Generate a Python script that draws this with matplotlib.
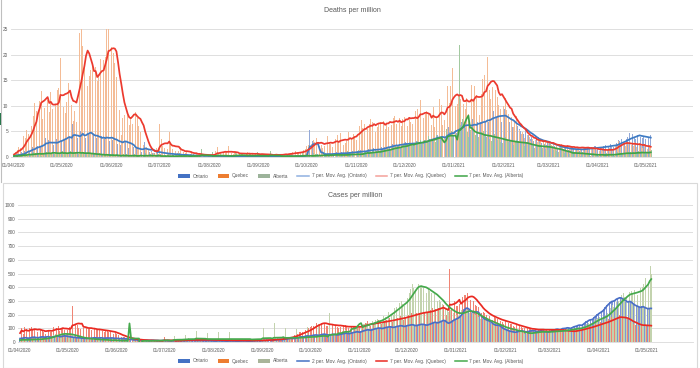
import matplotlib.pyplot as plt
import matplotlib.dates as mdates
from matplotlib.patches import Patch, Rectangle
from matplotlib.lines import Line2D
import pandas as pd

plt.rcParams['font.family'] = ['Liberation Sans', 'DejaVu Sans']

START = "2020-04-01"

# Deaths per million, daily values (each row = 2 weeks, Wed..Tue)
ontario_deaths = [
    0.2, 0.3, 0.5, 0.6, 0.4, 0.9, 1.0,   1.2, 1.5, 1.9, 1.1, 1.4, 2.0, 1.6,
    2.8, 2.2, 2.6, 1.9, 2.3, 3.1, 3.7,   2.9, 3.3, 2.5, 1.8, 2.4, 3.0, 3.6,
    3.8, 4.4, 3.1, 2.9, 3.5, 3.9, 5.2,   4.1, 3.6, 6.5, 3.4, 2.8, 3.7, 4.2,
    5.0, 6.2, 4.1, 3.8, 4.3, 4.7, 5.3,   3.6, 4.5, 3.0, 3.8, 3.2, 3.9, 4.1,
    4.2, 3.5, 4.0, 3.3, 3.1, 4.3, 3.4,   2.8, 3.1, 2.6, 2.2, 2.4, 3.4, 4.7,
    2.9, 2.1, 1.8, 1.5, 1.3, 1.9, 2.0,   1.7, 1.4, 1.2, 1.0, 1.6, 2.9, 1.3,
    1.1, 0.9, 1.2, 0.8, 0.7, 1.3, 1.0,   0.8, 0.6, 0.7, 0.5, 0.4, 0.9, 0.7,
    0.6, 0.5, 0.4, 0.3, 0.4, 0.6, 0.5,   0.4, 0.3, 0.5, 0.2, 0.2, 0.4, 0.3,
    0.3, 0.2, 0.4, 0.2, 0.1, 0.3, 0.2,   0.2, 0.3, 0.2, 0.1, 0.1, 0.2, 0.3,
    0.2, 0.1, 0.3, 0.1, 0.1, 0.2, 0.2,   0.1, 0.2, 0.1, 0.0, 0.1, 0.2, 0.1,
    0.1, 0.1, 0.2, 0.1, 0.0, 0.1, 0.1,   0.2, 0.1, 0.1, 0.0, 0.1, 0.1, 0.2,
    0.1, 0.1, 0.0, 0.1, 0.0, 0.1, 0.1,   0.1, 0.0, 0.1, 0.1, 0.0, 0.1, 0.1,
    0.1, 0.1, 0.2, 0.1, 0.1, 0.2, 0.1,   0.2, 0.1, 0.3, 0.1, 0.2, 0.2, 0.3,
    0.3, 0.4, 7.9, 5.2, 0.3, 3.1, 0.5,   0.6, 0.5, 0.7, 0.4, 0.3, 0.6, 0.8,
    0.7, 0.6, 0.5, 0.6, 0.4, 0.8, 0.9,   0.8, 0.7, 0.9, 0.6, 0.5, 0.8, 1.1,
    1.0, 0.9, 1.2, 0.8, 0.7, 1.1, 1.2,   1.4, 1.1, 1.3, 1.0, 1.2, 1.5, 1.6,
    1.5, 1.7, 1.3, 1.2, 1.4, 1.6, 1.9,   2.2, 1.9, 2.4, 1.8, 1.7, 2.3, 2.5,
    2.8, 2.4, 2.2, 2.6, 2.0, 2.5, 3.1,   2.9, 2.6, 2.3, 2.8, 2.2, 2.6, 3.0,
    3.2, 2.7, 3.1, 2.6, 2.5, 3.3, 3.5,   4.1, 3.6, 3.8, 3.4, 3.2, 4.0, 4.3,
    4.5, 3.9, 4.2, 2.6, 3.8, 5.9, 5.8,   5.6, 4.8, 4.1, 5.2, 4.6, 6.9, 7.2,
    6.8, 5.9, 6.6, 5.3, 5.0, 6.4, 7.1,   7.4, 6.5, 6.1, 6.8, 5.6, 6.9, 8.2,
    7.8, 7.1, 7.6, 6.9, 6.5, 8.4, 9.0,   8.6, 7.9, 8.3, 7.2, 6.8, 8.5, 9.4,
    7.5, 6.4, 6.9, 5.8, 5.9, 6.7, 7.2,   6.0, 5.4, 5.1, 4.8, 4.5, 5.3, 5.6,
    4.2, 3.6, 3.9, 3.1, 2.9, 3.5, 4.0,   3.3, 2.8, 3.0, 2.6, 2.4, 2.9, 3.1,
    2.4, 2.1, 2.2, 1.8, 1.7, 2.0, 2.3,   1.8, 1.5, 1.7, 1.4, 1.3, 1.6, 1.9,
    1.6, 1.4, 1.5, 1.3, 1.2, 1.6, 1.8,   1.9, 1.6, 1.8, 1.5, 1.4, 1.7, 2.1,
    2.2, 1.9, 2.0, 1.7, 1.6, 2.1, 2.4,   2.4, 2.2, 2.5, 2.0, 1.9, 2.4, 2.8,
    3.4, 3.1, 3.6, 2.9, 2.8, 3.5, 4.0,   4.6, 4.1, 4.4, 3.8, 3.6, 4.3, 4.8,
    4.0, 3.7, 3.9, 3.5, 3.3, 3.9, 4.2,
]
quebec_deaths = [
    0.5, 0.9, 1.4, 2.0, 1.8, 2.9, 4.1,   3.8, 5.2, 4.4, 4.9, 6.0, 8.1, 10.5,
    9.0, 16.9, 11.0, 12.8, 7.5, 9.6, 12.9,   11.2, 8.8, 12.6, 9.4, 7.0, 10.1, 13.0,
    13.4, 19.4, 12.0, 9.7, 8.5, 10.8, 14.5,   15.9, 10.2, 7.1, 9.0, 6.8, 19.8, 24.2,
    25.5, 21.6, 17.5, 23.0, 13.9, 15.8, 17.0,   18.1, 12.2, 17.5, 14.8, 16.3, 19.2, 19.5,
    18.9, 19.6, 25.8, 25.5, 17.1, 21.5, 20.3,   18.4, 15.7, 11.3, 9.1, 4.2, 7.6, 8.3,
    10.5, 8.2, 6.3, 7.9, 6.4, 10.4, 8.8,   7.7, 6.1, 4.8, 3.1, 2.3, 1.8, 2.0,
    1.3, 0.6, 1.0, 0.8, 0.6, 1.7, 2.2,   6.5, 3.6, 2.1, 1.8, 0.9, 1.5, 4.8,
    2.8, 1.6, 1.9, 1.1, 0.7, 1.2, 2.0,   1.3, 0.9, 0.7, 1.2, 0.4, 0.8, 1.1,
    0.6, 0.4, 0.7, 0.2, 0.5, 0.4, 0.6,   0.4, 0.2, 0.6, 0.1, 0.4, 0.5, 0.6,
    1.1, 1.9, 0.6, 0.7, 0.8, 0.9, 1.2,   0.9, 2.1, 0.6, 0.7, 0.5, 0.9, 0.8,
    0.6, 0.8, 0.5, 0.6, 0.4, 0.7, 0.9,   0.8, 0.5, 0.6, 0.4, 0.5, 0.7, 0.6,
    0.5, 0.7, 0.4, 0.3, 0.4, 0.5, 0.6,   0.4, 0.2, 0.5, 0.6, 0.1, 0.5, 0.6,
    0.5, 0.6, 0.8, 0.4, 0.6, 0.7, 0.9,   0.8, 1.1, 0.9, 0.7, 0.8, 1.2, 1.4,
    1.5, 2.1, 2.4, 1.9, 2.6, 3.3, 2.9,   3.8, 2.5, 2.1, 2.4, 1.8, 2.2, 3.7,
    4.1, 2.9, 2.6, 1.9, 2.3, 3.5, 4.3,   3.0, 4.6, 3.2, 2.4, 2.8, 3.1, 4.8,
    4.9, 3.6, 4.4, 3.9, 3.3, 5.6, 6.1,   7.2, 5.6, 6.4, 4.3, 5.5, 6.5, 7.4,
    6.9, 8.0, 4.8, 5.9, 6.4, 6.8, 7.5,   7.1, 5.5, 6.7, 5.9, 8.4, 6.3, 7.6,
    8.0, 6.4, 5.5, 7.6, 6.1, 7.4, 7.9,   10.6, 6.1, 7.8, 6.9, 6.5, 7.4, 9.0,
    9.3, 8.1, 11.2, 6.8, 7.6, 8.4, 9.0,   8.5, 7.1, 6.3, 9.7, 5.8, 7.9, 9.6,
    11.4, 10.1, 6.2, 7.3, 9.0, 13.9, 10.6,   13.8, 17.4, 9.7, 9.9, 10.3, 12.2, 11.4,
    12.8, 10.4, 9.3, 11.5, 8.4, 12.0, 14.1,   11.0, 13.9, 12.1, 10.6, 8.3, 12.4, 15.3,
    16.1, 14.8, 19.6, 13.0, 11.4, 13.6, 15.2,   13.1, 11.8, 10.2, 9.4, 12.6, 10.0, 11.5,
    9.2, 8.4, 6.5, 7.8, 5.9, 6.8, 8.1,   6.0, 5.3, 4.4, 4.9, 3.8, 5.0, 4.2,
    3.9, 3.1, 3.6, 2.8, 3.4, 3.0, 3.5,   3.2, 2.6, 2.9, 3.4, 2.1, 2.8, 3.0,
    2.4, 2.7, 1.9, 2.2, 1.8, 2.4, 2.6,   1.9, 2.2, 1.6, 2.4, 1.5, 1.9, 2.1,
    2.1, 1.5, 1.8, 1.9, 1.4, 2.2, 2.0,   1.8, 1.6, 2.0, 1.3, 1.5, 1.9, 1.7,
    1.4, 1.5, 1.2, 1.6, 1.1, 1.3, 1.6,   1.3, 1.7, 1.2, 1.6, 1.4, 2.4, 2.6,
    3.1, 2.8, 2.5, 2.9, 2.2, 3.0, 2.6,   2.8, 2.4, 2.1, 3.0, 1.9, 2.6, 2.7,
    2.2, 1.8, 2.4, 1.7, 1.6, 2.3, 2.0,
]
alberta_deaths = [
    0.2, 0.3, 0.0, 0.5, 0.2, 0.7, 0.5,   0.5, 0.2, 0.7, 0.5, 0.3, 0.9, 0.7,
    0.7, 0.5, 0.9, 0.2, 0.5, 1.1, 0.9,   0.9, 0.7, 0.5, 1.1, 0.5, 0.9, 0.7,
    0.7, 0.9, 1.1, 0.5, 0.7, 0.5, 0.9,   1.1, 0.7, 0.9, 0.7, 0.9, 0.5, 1.1,
    0.7, 0.9, 0.5, 0.7, 0.9, 0.5, 0.7,   0.5, 0.7, 0.2, 0.5, 0.7, 0.2, 0.5,
    0.5, 0.2, 0.5, 0.2, 0.5, 0.2, 0.5,   0.2, 0.5, 0.2, 0.0, 0.2, 0.5, 0.2,
    0.5, 0.2, 0.0, 0.2, 0.2, 0.5, 0.2,   0.2, 0.2, 0.5, 0.0, 0.0, 0.7, 0.2,
    0.2, 0.5, 0.2, 0.0, 0.2, 0.2, 0.5,   0.2, 0.0, 0.2, 0.0, 0.0, 0.5, 0.2,
    0.2, 0.2, 0.0, 0.0, 0.0, 0.7, 0.2,   0.2, 0.2, 0.0, 0.0, 0.0, 0.5, 0.2,
    0.5, 0.0, 0.2, 0.0, 0.0, 1.6, 0.2,   0.2, 0.2, 0.0, 0.0, 0.0, 0.9, 0.2,
    0.2, 0.5, 0.2, 0.0, 0.0, 0.7, 0.2,   0.2, 0.2, 0.2, 0.0, 0.0, 0.9, 0.5,
    0.2, 0.5, 0.2, 0.0, 0.0, 0.7, 0.2,   0.5, 0.2, 0.2, 0.0, 0.0, 0.9, 0.2,
    0.2, 0.2, 0.2, 0.0, 0.0, 0.5, 1.1,   0.2, 0.2, 0.0, 0.0, 0.0, 0.7, 0.2,
    0.2, 0.0, 0.2, 0.0, 0.0, 0.5, 0.2,   0.2, 0.2, 0.2, 0.0, 0.0, 0.7, 0.5,
    0.2, 0.2, 0.0, 0.0, 0.0, 0.7, 0.5,   0.5, 0.2, 0.2, 0.0, 0.0, 0.9, 0.5,
    0.5, 0.2, 0.5, 0.0, 0.0, 1.1, 0.5,   0.5, 0.2, 0.5, 0.0, 0.0, 1.1, 0.7,
    0.7, 0.5, 0.5, 0.0, 0.0, 1.4, 0.5,   0.9, 0.7, 1.1, 0.5, 0.5, 1.1, 0.9,
    1.1, 0.9, 1.4, 0.7, 0.9, 1.1, 1.4,   1.6, 1.4, 1.8, 1.1, 1.4, 1.6, 2.1,
    2.3, 1.8, 2.1, 1.6, 1.8, 2.5, 2.3,   2.7, 2.1, 3.0, 2.3, 2.1, 2.5, 3.2,
    3.2, 2.7, 3.4, 2.5, 2.7, 3.4, 3.0,   4.1, 3.4, 3.6, 3.2, 3.0, 4.3, 3.9,
    4.6, 4.1, 0.0, 0.0, 5.5, 9.8, 4.8,   5.0, 4.1, 0.0, 0.0, 0.0, 21.8, 6.2,
    7.5, 6.8, 5.7, 4.8, 3.9, 5.2, 5.9,   5.2, 4.3, 4.6, 3.9, 3.4, 4.8, 5.0,
    4.3, 3.9, 4.1, 3.6, 3.2, 4.1, 4.5,   3.9, 3.4, 3.6, 3.0, 2.7, 3.4, 3.9,
    3.4, 2.9, 3.2, 2.5, 2.3, 3.0, 3.4,   3.2, 2.7, 2.9, 2.3, 2.1, 2.7, 3.2,
    2.5, 2.1, 2.3, 1.8, 1.6, 2.1, 2.7,   2.3, 1.8, 2.1, 1.6, 1.4, 2.1, 2.5,
    1.8, 1.4, 1.6, 1.1, 0.9, 1.6, 2.1,   1.1, 0.7, 0.9, 0.5, 0.5, 0.9, 1.1,
    0.9, 0.7, 0.7, 0.5, 0.2, 0.9, 0.9,   0.7, 0.5, 0.5, 0.2, 0.2, 0.7, 0.7,
    0.5, 0.2, 0.5, 0.2, 0.2, 0.5, 0.7,   0.5, 0.5, 0.5, 0.2, 0.2, 0.7, 0.9,
    0.9, 0.7, 0.7, 0.5, 0.5, 0.9, 0.9,   0.9, 0.7, 0.9, 0.5, 0.7, 1.1, 0.9,
    1.1, 0.9, 0.7, 0.7, 0.5, 1.1, 1.4,
]

# Cases per million, daily values
ontario_cases = [
    25, 28, 30, 32, 29, 27, 31,   33, 36, 34, 31, 30, 35, 37,
    38, 34, 36, 40, 37, 33, 36,   38, 42, 45, 40, 38, 41, 44,
    46, 42, 40, 38, 36, 33, 34,   32, 30, 31, 29, 27, 28, 26,
    25, 27, 26, 29, 30, 32, 28,   29, 31, 30, 28, 27, 30, 29,
    28, 30, 29, 27, 26, 27, 25,   24, 26, 25, 23, 21, 20, 19,
    18, 17, 16, 15, 14, 16, 15,   14, 13, 14, 12, 11, 12, 13,
    12, 11, 12, 10, 9, 11, 12,   11, 10, 11, 9, 8, 10, 11,
    10, 11, 10, 9, 8, 9, 10,   11, 10, 12, 10, 9, 11, 10,
    9, 10, 11, 9, 8, 9, 10,   8, 9, 8, 7, 6, 8, 9,
    8, 7, 8, 7, 6, 7, 8,   7, 8, 7, 6, 5, 7, 8,
    7, 8, 7, 6, 6, 7, 8,   8, 9, 10, 9, 8, 10, 11,
    11, 12, 13, 12, 11, 13, 14,   15, 17, 19, 18, 17, 20, 21,
    22, 24, 27, 26, 25, 28, 30,   32, 35, 38, 37, 39, 45, 44,
    42, 45, 48, 50, 52, 50, 48,   52, 55, 58, 56, 53, 50, 52,
    54, 57, 55, 53, 51, 55, 58,   60, 62, 65, 63, 60, 64, 67,
    70, 72, 75, 73, 70, 78, 80,   85, 88, 90, 87, 85, 92, 95,
    98, 100, 103, 100, 97, 102, 105,   108, 110, 112, 108, 105, 110, 113,
    115, 118, 120, 115, 112, 118, 120,   122, 125, 127, 123, 118, 122, 125,
    127, 130, 128, 125, 122, 126, 130,   135, 140, 145, 142, 138, 145, 150,
    155, 160, 150, 140, 135, 145, 150,   160, 165, 170, 175, 185, 200, 215,
    240, 250, 245, 235, 225, 215, 220,   215, 225, 210, 195, 180, 170, 165,
    160, 155, 150, 140, 130, 125, 120,   125, 120, 110, 100, 95, 90, 85,
    80, 78, 75, 72, 70, 75, 78,   80, 82, 78, 75, 73, 77, 80,
    82, 85, 80, 78, 76, 80, 82,   80, 78, 76, 74, 72, 78, 82,
    85, 90, 95, 92, 88, 95, 100,   98, 102, 105, 100, 98, 108, 112,
    115, 118, 125, 122, 120, 135, 140,   150, 155, 165, 160, 170, 185, 190,
    205, 210, 220, 225, 240, 255, 270,   280, 290, 300, 295, 310, 315, 320,
    325, 318, 312, 305, 295, 290, 300,   290, 280, 270, 265, 260, 255, 250,
    260, 255, 248, 245, 240, 250, 240,
]
quebec_cases = [
    65, 105, 60, 110, 95, 55, 100,   110, 95, 90, 105, 75, 70, 85,
    80, 75, 60, 120, 85, 70, 75,   110, 95, 100, 120, 80, 100, 105,
    90, 95, 85, 110, 100, 265, 120,   130, 125, 100, 95, 105, 100, 110,
    110, 95, 100, 90, 85, 95, 90,   90, 95, 85, 80, 75, 85, 80,
    75, 80, 70, 60, 65, 55, 50,   45, 40, 35, 35, 30, 25, 25,
    22, 20, 18, 15, 14, 16, 15,   14, 13, 12, 11, 10, 12, 11,
    10, 9, 9, 8, 7, 9, 10,   35, 9, 8, 7, 6, 9, 10,
    11, 10, 12, 13, 12, 14, 15,   16, 15, 17, 14, 13, 16, 18,
    17, 18, 16, 14, 12, 17, 18,   17, 16, 15, 13, 12, 14, 15,
    14, 13, 12, 11, 10, 13, 14,   13, 12, 12, 10, 9, 12, 13,
    12, 11, 12, 10, 9, 11, 12,   12, 13, 11, 10, 11, 12, 13,
    15, 16, 17, 14, 13, 16, 18,   20, 22, 24, 21, 19, 27, 29,
    34, 36, 38, 40, 35, 50, 55,   60, 70, 72, 75, 65, 90, 85,
    100, 110, 115, 120, 125, 140, 130,   135, 140, 160, 130, 120, 115, 110,
    125, 130, 140, 125, 110, 105, 110,   115, 120, 125, 110, 100, 105, 115,
    110, 115, 120, 105, 100, 115, 125,   135, 140, 150, 125, 115, 130, 140,
    145, 155, 160, 140, 130, 145, 150,   160, 170, 175, 150, 145, 165, 170,
    175, 185, 190, 170, 160, 185, 190,   195, 205, 215, 195, 185, 210, 215,
    215, 225, 235, 210, 200, 220, 225,   230, 245, 255, 240, 230, 250, 260,
    255, 270, 215, 195, 190, 530, 245,   280, 300, 260, 265, 280, 320, 330,
    340, 345, 360, 320, 305, 330, 300,   270, 265, 255, 225, 210, 220, 215,
    200, 195, 190, 175, 160, 180, 175,   165, 160, 155, 145, 135, 150, 155,
    140, 135, 130, 120, 110, 125, 120,   115, 110, 105, 100, 90, 100, 95,
    95, 90, 100, 85, 80, 90, 95,   90, 95, 90, 85, 80, 90, 95,
    90, 95, 90, 85, 80, 85, 90,   85, 80, 75, 75, 70, 80, 85,
    85, 90, 95, 90, 85, 100, 105,   105, 110, 120, 110, 105, 125, 130,
    135, 140, 145, 135, 130, 150, 155,   165, 175, 185, 170, 160, 185, 190,
    195, 185, 180, 160, 150, 165, 155,   145, 140, 130, 125, 115, 120, 125,
    120, 125, 130, 115, 110, 120, 115,
]
alberta_cases = [
    14, 16, 18, 15, 12, 20, 22,   20, 18, 21, 16, 15, 24, 26,
    25, 28, 32, 30, 24, 40, 45,   50, 55, 60, 58, 52, 65, 62,
    60, 58, 55, 52, 48, 50, 45,   40, 35, 32, 28, 25, 30, 28,
    25, 22, 20, 18, 16, 20, 22,   18, 16, 15, 14, 12, 15, 16,
    14, 12, 12, 10, 9, 11, 12,   10, 9, 8, 8, 7, 9, 900,
    -760, 9, 8, 7, 6, 8, 9,   8, 9, 10, 8, 7, 9, 10,
    10, 11, 12, 9, 8, 12, 13,   15, 14, 16, 0, 0, 15, 45,
    18, 22, 20, 0, 0, 21, 50,   24, 26, 25, 0, 0, 23, 80,
    22, 21, 24, 0, 0, 20, 65,   23, 20, 22, 0, 0, 20, 70,
    20, 21, 19, 0, 0, 20, 74,   19, 20, 18, 0, 0, 19, 74,
    18, 19, 20, 0, 0, 18, 55,   22, 24, 23, 0, 0, 22, 100,
    25, 27, 26, 0, 0, 0, 140,   28, 30, 27, 0, 0, 25, 100,
    30, 32, 29, 0, 0, 28, 95,   33, 35, 34, 0, 0, 32, 110,
    38, 40, 42, 0, 0, 36, 130,   45, 47, 50, 0, 0, 0, 215,
    55, 60, 62, 0, 0, 58, 205,   80, 85, 90, 0, 0, 75, 330,
    95, 110, 115, 105, 90, 120, 130,   130, 140, 135, 125, 120, 150, 145,
    160, 170, 175, 150, 140, 190, 185,   210, 220, 235, 205, 200, 245, 255,
    270, 285, 300, 275, 265, 310, 320,   360, 385, 420, 395, 380, 430, 420,
    410, 400, 395, 380, 360, 385, 370,   355, 340, 350, 320, 300, 310, 290,
    275, 265, 245, 230, 220, 235, 225,   215, 210, 200, 190, 205, 230, 215,
    235, 240, 230, 215, 210, 225, 205,   200, 195, 185, 170, 160, 175, 165,
    155, 150, 145, 135, 125, 140, 130,   120, 115, 110, 100, 95, 105, 100,
    95, 90, 88, 80, 75, 85, 82,   75, 70, 65, 60, 55, 62, 68,
    70, 72, 75, 68, 65, 78, 80,   78, 76, 74, 70, 68, 75, 80,
    82, 85, 80, 75, 72, 80, 85,   88, 92, 95, 88, 85, 95, 100,
    100, 105, 110, 100, 95, 115, 120,   130, 140, 150, 140, 135, 165, 170,
    175, 185, 190, 175, 170, 200, 210,   230, 250, 270, 255, 240, 290, 300,
    320, 340, 355, 330, 320, 360, 365,   370, 360, 380, 350, 340, 385, 395,
    400, 420, 470, 440, 430, 555, 500,
]

provinces = ["Ontario", "Quebec", "Alberta"]


def series(vals):
    return pd.Series(vals, index=pd.date_range(START, periods=len(vals), freq="D"), dtype=float)


GRID = "#D9D9D9"
TXT = "#595959"
W, H = 700, 368

fig = plt.figure(figsize=(7.0, 3.68), dpi=100)

# window frames like the spreadsheet screenshot
fig.add_artist(Rectangle((3 / W, 0), 694 / W, 1 - 183 / H, transform=fig.transFigure,
                         fill=False, edgecolor=GRID, lw=0.8))
fig.add_artist(Line2D([1 / W, 1 / W], [1 - 182 / H, 1], transform=fig.transFigure, color="#BFBFBF", lw=0.8))
fig.add_artist(Rectangle((0, 1 - 125 / H), 2 / W, 12 / H, transform=fig.transFigure,
                         color="#217346", lw=0))


def draw(rect, title, title_pad, data, windows, bar_cols, line_cols, leg_cols, labels,
         ylim, ystep, x0, x1, leg_y):
    ax = fig.add_axes(rect)
    offsets = [-0.3, 0.0, 0.3]
    for s, off, c in zip(data, offsets, bar_cols):
        x = mdates.date2num(s.index) + off
        ax.bar(x, s.values, width=0.5, color=c, lw=0, zorder=2)
    for s, w, c in zip(data, windows, line_cols):
        ma = s.rolling(w, min_periods=1).mean()
        ax.plot(mdates.date2num(ma.index), ma.values, color=c, lw=1.25, zorder=3)
    base = mdates.date2num(pd.Timestamp(START))
    ax.set_xlim(base + x0, base + x1)
    ax.set_ylim(*ylim)
    ax.set_yticks(range(ylim[0], ylim[1] + 1, ystep))
    ax.xaxis.set_major_locator(mdates.MonthLocator(bymonthday=1))
    ax.xaxis.set_major_formatter(mdates.DateFormatter("%d/%m/%Y"))
    ax.tick_params(length=0, labelsize=3.4, labelcolor=TXT)
    ax.tick_params(axis="x", pad=4)
    ax.tick_params(axis="y", pad=2)
    ax.yaxis.grid(True, color=GRID, lw=0.6)
    ax.set_axisbelow(True)
    for sp in ["left", "top", "right"]:
        ax.spines[sp].set_visible(False)
    ax.spines["bottom"].set_color(GRID)
    ax.spines["bottom"].set_linewidth(0.6)
    ax.set_title(title, fontsize=5, color=TXT, pad=title_pad)
    handles = [Patch(facecolor=c, edgecolor="none") for c in leg_cols[:3]]
    handles += [Line2D([0], [0], color=c, lw=1.1) for c in leg_cols[3:]]
    fig.legend(handles, labels, loc="center", bbox_to_anchor=(351 / W, 1 - leg_y / H), ncol=6,
               frameon=False, fontsize=3.4, labelcolor=TXT, handlelength=2.4, handleheight=0.8,
               handletextpad=0.6, columnspacing=2.0)
    return ax


deaths = [series(ontario_deaths), series(quebec_deaths), series(alberta_deaths)]
cases = [series(ontario_cases), series(quebec_cases), series(alberta_cases)]

draw([11 / W, 1 - 157 / H, 682 / W, 128 / H], "Deaths per million", 12, deaths, [7, 7, 7],
     ["#93A9D8", "#F4BC96", "#A3C9A0"], ["#3E7BC4", "#EC3A2E", "#3FA447"],
     ["#4472C4", "#ED7D31", "#9CB39A", "#8FB0E0", "#F4A09A", "#3FA447"],
     provinces + ["7 per. Mov. Avg. (Ontario)", "7 per. Mov. Avg. (Quebec)", "7 per. Mov. Avg. (Alberta)"],
     (0, 25), 5, -1.9, 424.4, 176)

draw([18 / W, 1 - 342 / H, 675 / W, 137 / H], "Cases per million", 6, cases, [2, 7, 7],
     ["#8095D6", "#F08474", "#C3D3AE"], ["#4A6FC6", "#EA2A22", "#45A94C"],
     ["#4472C4", "#ED7D31", "#A9B59A", "#4472C4", "#EA2A22", "#45A94C"],
     provinces + ["2 per. Mov. Avg. (Ontario)", "7 per. Mov. Avg. (Quebec)", "7 per. Mov. Avg. (Alberta)"],
     (0, 1000), 100, -1.3, 424.3, 361)

fig.savefig("out.png", dpi=100)
